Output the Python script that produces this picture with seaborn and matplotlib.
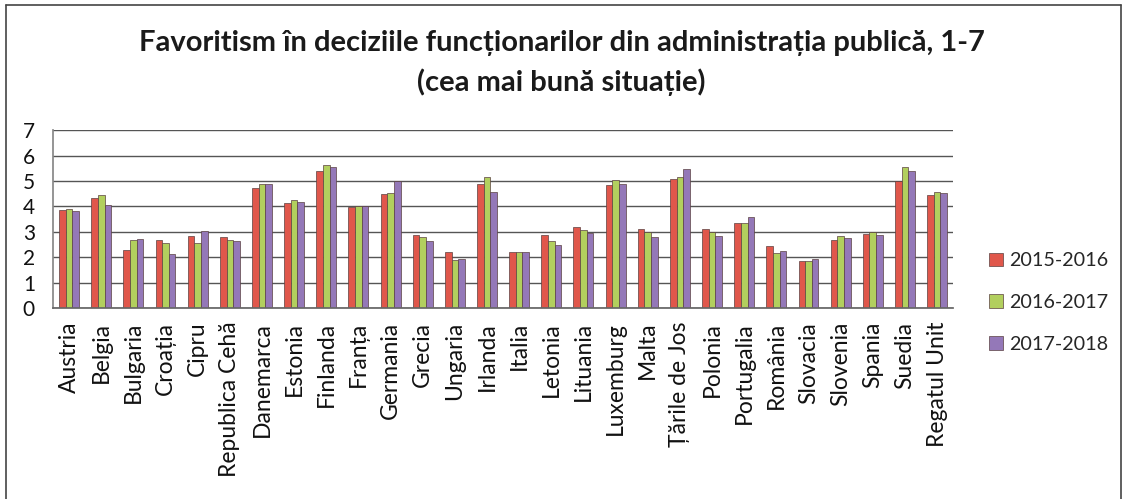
import matplotlib
matplotlib.use('Agg')
import matplotlib.pyplot as plt
import pandas as pd
import seaborn as sns
from matplotlib.lines import Line2D

sns.set_theme(style='white')
plt.rcParams['font.family'] = ['Lato', 'DejaVu Sans']

countries = ['Austria', 'Belgia', 'Bulgaria', 'Croația', 'Cipru', 'Republica Cehă', 'Danemarca',
             'Estonia', 'Finlanda', 'Franța', 'Germania', 'Grecia', 'Ungaria', 'Irlanda', 'Italia',
             'Letonia', 'Lituania', 'Luxemburg', 'Malta', 'Țările de Jos', 'Polonia', 'Portugalia',
             'România', 'Slovacia', 'Slovenia', 'Spania', 'Suedia', 'Regatul Unit']
v_2015 = [3.84, 4.32, 2.30, 2.69, 2.82, 2.78, 4.71, 4.15, 5.40, 3.96, 4.49, 2.86, 2.21, 4.88,
          2.21, 2.86, 3.20, 4.83, 3.11, 5.09, 3.11, 3.33, 2.42, 1.85, 2.68, 2.92, 5.00, 4.44]
v_2016 = [3.89, 4.45, 2.69, 2.56, 2.56, 2.69, 4.88, 4.26, 5.63, 4.02, 4.54, 2.81, 1.87, 5.14,
          2.21, 2.64, 3.07, 5.04, 3.00, 5.17, 2.99, 3.36, 2.17, 1.84, 2.85, 2.99, 5.55, 4.57]
v_2017 = [3.80, 4.06, 2.73, 2.13, 3.02, 2.65, 4.88, 4.19, 5.56, 4.02, 5.01, 2.65, 1.91, 4.58,
          2.21, 2.47, 2.94, 4.88, 2.78, 5.47, 2.85, 3.58, 2.25, 1.93, 2.75, 2.89, 5.39, 4.52]
periods = ['2015-2016', '2016-2017', '2017-2018']
colors = ['#e0574b', '#b2cf5e', '#9478b8']

df = pd.DataFrame({'tara': countries, periods[0]: v_2015, periods[1]: v_2016, periods[2]: v_2017})
df = df.melt(id_vars='tara', var_name='perioada', value_name='valoare')

fig = plt.figure(figsize=(11.28, 4.99), dpi=100)
ax = fig.add_axes([0.047, 0.383, 0.798, 0.356])

sns.barplot(data=df, x='tara', y='valoare', hue='perioada', palette=colors, ax=ax,
            width=0.62, edgecolor='#5a4040', linewidth=0.5, saturation=1)

ax.set_ylim(0, 7)
ax.set_yticks(range(0, 8))
ax.set_xlim(-0.5, len(countries) - 0.5)
ax.grid(axis='y', color='#555555', linewidth=1.0)
ax.set_axisbelow(True)
for side in ['top', 'right']:
    ax.spines[side].set_visible(False)
ax.spines['left'].set_color('#888888')
ax.spines['bottom'].set_color('#666666')
ax.set_xlabel('')
ax.set_ylabel('')
ax.tick_params(axis='x', labelrotation=90, labelsize=16.5, pad=4, colors='#111111')
ax.tick_params(axis='y', labelsize=15, pad=7, colors='#111111')

ax.legend(loc='center left', bbox_to_anchor=(1.02, 0.03), frameon=False, fontsize=14.2,
          handlelength=0.7, handleheight=0.7, handletextpad=0.3, labelspacing=1.25)

fig.suptitle('Favoritism în deciziile funcționarilor din administrația publică, 1-7\n(cea mai bună situație)',
             fontsize=21, fontweight='bold', color='#1a1a1a', y=0.94, x=0.498, linespacing=1.55)

# chenarul exterior
for xs, ys in [([0.005, 0.005], [0, 0.99]), ([0.005, 0.994], [0.99, 0.99]), ([0.994, 0.994], [0, 0.99])]:
    fig.add_artist(Line2D(xs, ys, color='#444444', linewidth=1.2, transform=fig.transFigure))

fig.savefig('out.png', dpi=100)
